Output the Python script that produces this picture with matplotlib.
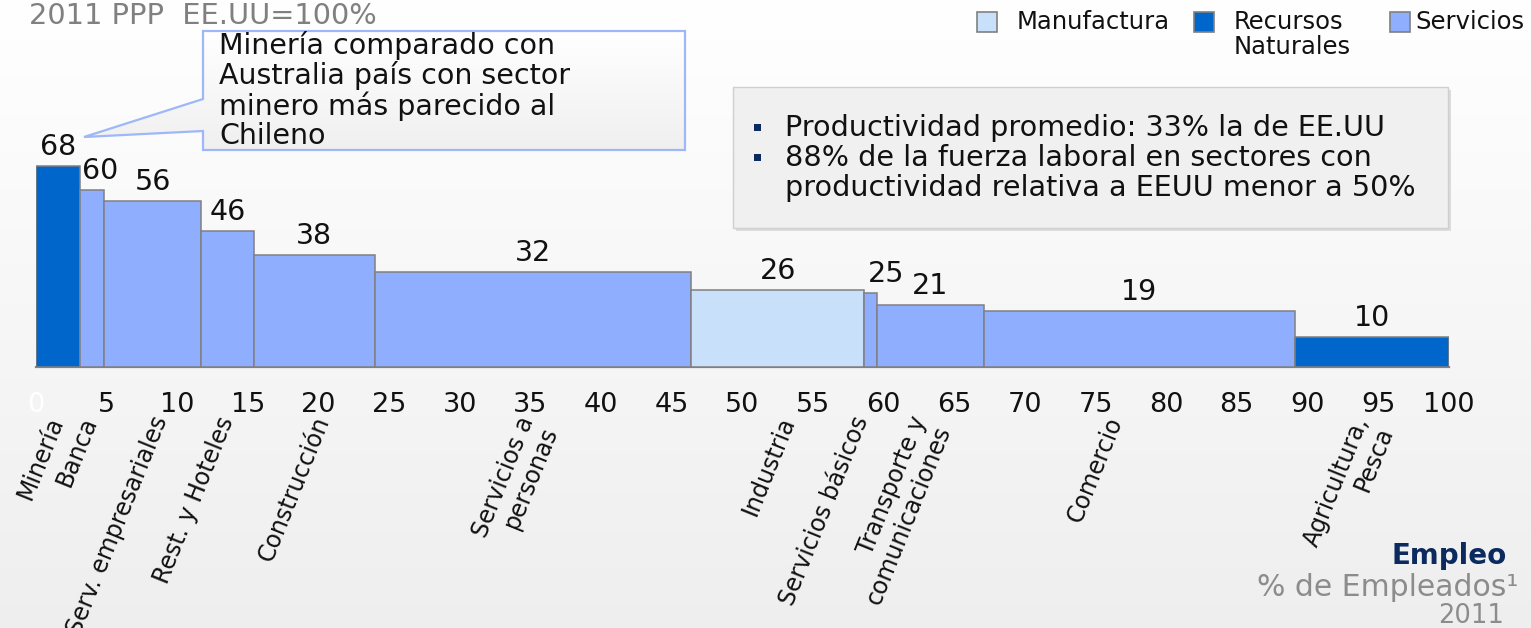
import numpy as np
import matplotlib
matplotlib.use("Agg")
import matplotlib.pyplot as plt
from matplotlib.patches import Rectangle, Polygon

# ---------------- data ----------------
sectors = ["Minería", "Banca", "Serv. empresariales", "Rest. y Hoteles", "Construcción",
           "Servicios a\npersonas", "Industria", "Servicios básicos",
           "Transporte y\ncomunicaciones", "Comercio", "Agricultura,\nPesca"]
employment_share = [3.1, 1.7, 6.9, 3.7, 8.6, 22.4, 12.2, 0.9, 7.6, 22.0, 10.9]   # % de empleados
productivity = [68, 60, 56, 46, 38, 32, 26, 25, 21, 19, 10]                       # EE.UU = 100
sector_group = ["Recursos Naturales", "Servicios", "Servicios", "Servicios", "Servicios",
                "Servicios", "Manufactura", "Servicios", "Servicios", "Servicios",
                "Recursos Naturales"]
x_ticks = list(range(0, 101, 5))

legend_groups = ["Manufactura", "Recursos Naturales", "Servicios"]
legend_labels = ["Manufactura", "Recursos\nNaturales", "Servicios"]
title_text = "2011 PPP  EE.UU=100%"
callout_lines = ["Minería comparado con", "Australia país con sector",
                 "minero más parecido al", "Chileno"]
info_lines = [(True, "Productividad promedio: 33% la de EE.UU"),
              (True, "88% de la fuerza laboral en sectores con"),
              (False, "productividad relativa a EEUU menor a 50%")]
footer = ["Empleo", "% de Empleados¹", "2011"]

# ---------------- style / layout ----------------
colors = {"Manufactura": "#C8E0FA", "Recursos Naturales": "#0066CC", "Servicios": "#8FAEFD"}
edge = "#808080"
W, H = 1531, 628
val_dx = [0, 8, 0, 0, 0, 0, 0, 16, 0, 0, 0]                    # value label nudges (pixels)
cat_dx = [-12, -12, -2, -11, -2, -17, -1, -19, -21, -34, -20]   # category label nudges (pixels)

plt.rcParams["font.family"] = ["DejaVu Sans"]
fig = plt.figure(figsize=(W / 100, H / 100), dpi=100)

# background gradient
bg = fig.add_axes([0, 0, 1, 1], zorder=-10)
grad = np.linspace(1.0, 0.935, 256).reshape(-1, 1)
bg.imshow(np.dstack([grad, grad, grad]), aspect="auto", extent=[0, 1, 0, 1], origin="upper")
bg.set_axis_off()

# main axes placed in pixel terms
x0_px, x100_px, base_px, px_per_unit = 36, 1448.7, 367, 2.956
ymax = 75
top_px = base_px - ymax * px_per_unit
ax = fig.add_axes([x0_px / W, (H - base_px) / H, (x100_px - x0_px) / W, (base_px - top_px) / H])
ax.set_facecolor("none")

widths = np.array(employment_share)
lefts = np.concatenate([[0], np.cumsum(widths)[:-1]])
centers = lefts + widths / 2
ax.bar(lefts, productivity, width=widths, align="edge",
       color=[colors[g] for g in sector_group], edgecolor=edge, linewidth=1.1, zorder=3)

ax.set_xlim(0, 100)
ax.set_ylim(0, ymax)
for s in ["top", "right", "left"]:
    ax.spines[s].set_visible(False)
ax.spines["bottom"].set_color(edge)
ax.spines["bottom"].set_linewidth(1.6)
ax.set_yticks([])
ax.set_xticks(x_ticks)
ax.set_xticklabels([str(t) for t in x_ticks], fontsize=19.5, color="#111111")
ax.get_xticklabels()[0].set_color("white")
ax.tick_params(axis="x", length=0, pad=18)

# value labels
for c, v, dx in zip(centers, productivity, val_dx):
    ax.annotate(str(v), xy=(c, v), xytext=(dx, 19), textcoords="offset pixels",
                ha="center", va="center", fontsize=20.5, color="#111111", zorder=5)

# category labels (rotated)
for c, name, dx in zip(centers, sectors, cat_dx):
    ax.annotate(name, xy=(c, 0), xytext=(dx, -46), textcoords="offset pixels",
                rotation=68, rotation_mode="anchor", ha="right", va="top",
                fontsize=17, color="#111111", linespacing=1.1, annotation_clip=False)

# overlay in pixel coordinates
ov = fig.add_axes([0, 0, 1, 1], zorder=10)
ov.set_xlim(0, W)
ov.set_ylim(H, 0)
ov.set_axis_off()
ov.patch.set_visible(False)

ov.text(29, 16, title_text, fontsize=20.8, color="#808080", ha="left", va="center")

# callout
poly = [(203, 31), (685, 31), (685, 150), (203, 150), (203, 131), (84, 137), (203, 99)]
callout = Polygon(poly, closed=True, facecolor="none", edgecolor="#9DB7F8", linewidth=1.6, zorder=2)
ov.add_patch(callout)
cg = np.linspace(1.0, 0.94, 64).reshape(-1, 1)
im = ov.imshow(np.dstack([cg, cg, cg]), extent=[84, 685, 150, 31], aspect="auto", zorder=1)
im.set_clip_path(callout)
for i, line in enumerate(callout_lines):
    ov.text(219, 46 + 30 * i, line, fontsize=20.5, color="#111111", ha="left", va="center", zorder=3)

# info box
ov.add_patch(Rectangle((736, 90), 715, 141, facecolor="#dcdcdc", edgecolor="none", zorder=1))
ov.add_patch(Rectangle((733, 87), 715, 141, facecolor="#f0f0f0", edgecolor="#cfcfcf", linewidth=1, zorder=2))
for i, (bullet, line) in enumerate(info_lines):
    y = 128 + 30 * i
    if bullet:
        ov.add_patch(Rectangle((754, y - 4), 7, 7, facecolor="#0B2A5E", edgecolor="none", zorder=3))
    ov.text(785, y, line, fontsize=20.6, color="#111111", ha="left", va="center", zorder=3)

# legend
leg_box_x = [977, 1194, 1390]
leg_txt_x = [1017, 1234, 1415]
for g, lab, bx, tx in zip(legend_groups, legend_labels, leg_box_x, leg_txt_x):
    ov.add_patch(Rectangle((bx, 12), 20, 20, facecolor=colors[g], edgecolor=edge, linewidth=1.2, zorder=3))
    ov.text(tx, 10, lab, fontsize=17.5, color="#111111", ha="left", va="top", linespacing=1.05, zorder=3)

# footer
ov.text(1507, 556, footer[0], fontsize=20, fontweight="bold", color="#0B2A5E", ha="right", va="center")
ov.text(1518, 587, footer[1], fontsize=21.5, color="#8C8C8C", ha="right", va="center")
ov.text(1504, 616, footer[2], fontsize=18.5, color="#8C8C8C", ha="right", va="center")

fig.savefig("out.png", dpi=100)
